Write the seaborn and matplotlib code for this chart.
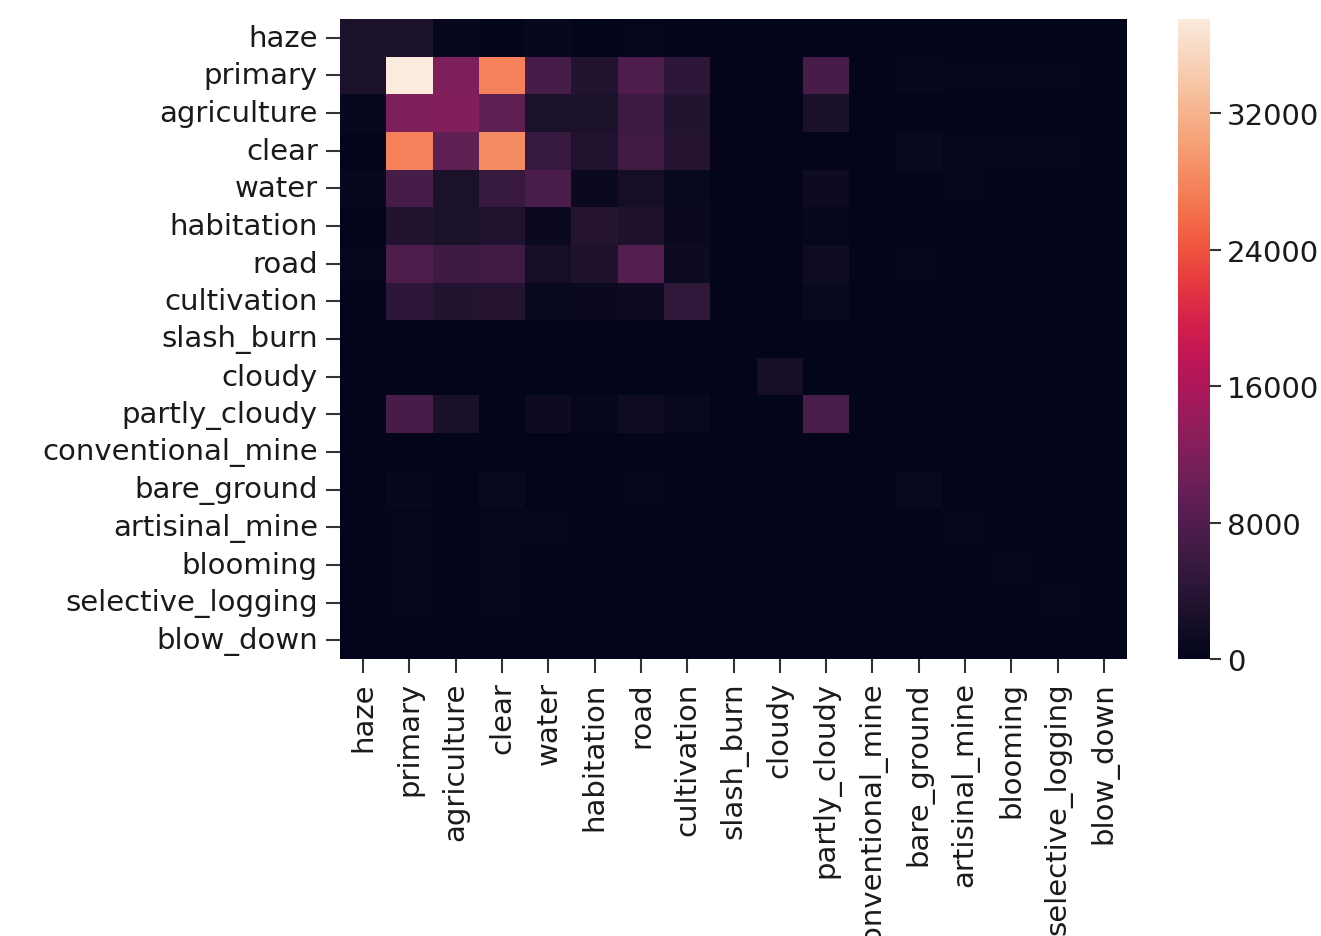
import numpy as np
import pandas as pd
import matplotlib
matplotlib.use("Agg")
import matplotlib.pyplot as plt
import seaborn as sns

labels = ["haze", "primary", "agriculture", "clear", "water", "habitation", "road",
          "cultivation", "slash_burn", "cloudy", "partly_cloudy", "conventional_mine",
          "bare_ground", "artisinal_mine", "blooming", "selective_logging", "blow_down"]

row_haze              = [2697, 2670, 672, 0, 613, 129, 394, 202, 3, 0, 0, 2, 41, 5, 4, 5, 0]
row_primary           = [2670, 37513, 11972, 27668, 7001, 3469, 7728, 4455, 209, 0, 7175, 94, 683, 324, 332, 340, 98]
row_agriculture       = [672, 11972, 12315, 9150, 2712, 2737, 6034, 3377, 119, 0, 2493, 24, 225, 38, 32, 65, 22]
row_clear             = [0, 27668, 9150, 28431, 5502, 3090, 6295, 3527, 173, 0, 0, 70, 747, 307, 311, 308, 85]
row_water             = [613, 7001, 2712, 5502, 7411, 915, 2125, 868, 24, 0, 1295, 26, 206, 299, 16, 49, 3]
row_habitation        = [129, 3469, 2737, 3090, 915, 3660, 2786, 895, 41, 0, 441, 36, 163, 29, 4, 13, 3]
row_road              = [394, 7728, 6034, 6295, 2125, 2786, 8071, 1294, 36, 0, 1382, 59, 323, 110, 10, 151, 2]
row_cultivation       = [202, 4455, 3377, 3527, 868, 895, 1294, 4547, 126, 0, 818, 4, 89, 18, 35, 58, 8]
row_slash_burn        = [3, 209, 119, 173, 24, 41, 36, 126, 209, 0, 33, 0, 10, 0, 2, 2, 2]
row_cloudy            = [0, 0, 0, 0, 0, 0, 0, 0, 0, 2089, 0, 0, 0, 0, 0, 0, 0]
row_partly_cloudy     = [0, 7175, 2493, 0, 1295, 441, 1382, 818, 33, 0, 7261, 4, 74, 19, 7, 15, 0]
row_conventional_mine = [2, 94, 24, 70, 26, 36, 59, 4, 0, 0, 4, 100, 10, 4, 0, 0, 0]
row_bare_ground       = [41, 683, 225, 747, 206, 163, 323, 89, 10, 0, 74, 10, 862, 40, 3, 13, 2]
row_artisinal_mine    = [5, 324, 38, 307, 299, 29, 110, 18, 0, 0, 19, 4, 40, 339, 0, 6, 0]
row_blooming          = [4, 332, 32, 311, 16, 4, 10, 35, 2, 0, 7, 0, 3, 0, 332, 7, 1]
row_selective_logging = [5, 340, 65, 308, 49, 13, 151, 58, 2, 0, 15, 0, 13, 6, 7, 340, 0]
row_blow_down         = [0, 98, 22, 85, 3, 3, 2, 8, 2, 0, 0, 0, 2, 0, 1, 0, 101]

rows = [row_haze, row_primary, row_agriculture, row_clear, row_water, row_habitation,
        row_road, row_cultivation, row_slash_burn, row_cloudy, row_partly_cloudy,
        row_conventional_mine, row_bare_ground, row_artisinal_mine, row_blooming,
        row_selective_logging, row_blow_down]
cbar_ticks = [0, 8000, 16000, 24000, 32000]

df = pd.DataFrame(rows, index=labels, columns=labels)

W, H = 1321, 937
fig = plt.figure(figsize=(W / 100, H / 100), dpi=100)
ax = fig.add_axes([340 / W, 1 - 660 / H, 787 / W, 640 / H])
cax = fig.add_axes([1178 / W, 1 - 660 / H, 32 / W, 640 / H])

sns.heatmap(df, ax=ax, cbar_ax=cax, cmap="rocket",
            cbar_kws={"ticks": cbar_ticks})

fs = 21
ax.set_xticks(np.arange(len(labels)) + 0.5)
ax.set_yticks(np.arange(len(labels)) + 0.5)
ax.set_xticklabels(labels, rotation=90, fontsize=fs, color="#1a1a1a")
ax.set_yticklabels(labels, rotation=0, fontsize=fs, color="#1a1a1a")
ax.tick_params(axis="both", length=10, width=1.5, color="#333333", pad=6)
ax.set_xlabel("")
ax.set_ylabel("")
cax.tick_params(labelsize=fs, length=8, width=1.5, color="#333333", pad=4,
                labelcolor="#1a1a1a")
cax.set_yticklabels([str(t) for t in cbar_ticks])

fig.savefig("out.png", dpi=100)
